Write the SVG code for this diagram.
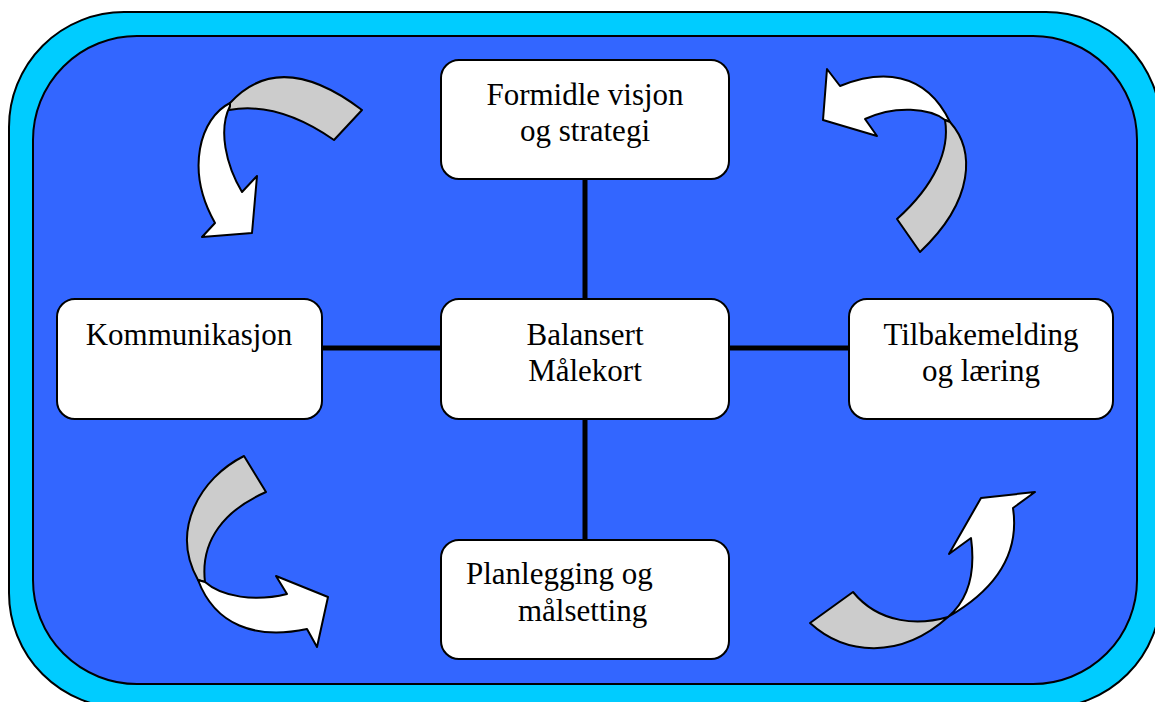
<svg xmlns="http://www.w3.org/2000/svg" width="1155" height="702" viewBox="0 0 1155 702">
  <style>
    .frame-outer { fill: #00CCFF; stroke: #000; stroke-width: 2; }
    .frame-inner { fill: #3366FF; stroke: #000; stroke-width: 2; }
    .box { fill: #FFFFFF; stroke: #000; stroke-width: 2; }
    .label { font-family: "Liberation Serif", "Times New Roman", serif; font-size: 31px; fill: #000; }
    .link { stroke: #000; stroke-width: 5; fill: none; }
    .band { fill: #CCCCCC; stroke: #000; stroke-width: 2; stroke-linejoin: round; }
    .head { fill: #FFFFFF; stroke: #000; stroke-width: 2; stroke-linejoin: round; }
  </style>

  <rect width="1155" height="702" fill="#FFFFFF"/>

  <!-- rounded frame -->
  <rect class="frame-outer" x="9" y="12" width="1152" height="696" rx="115" ry="115"/>
  <rect class="frame-inner" x="33" y="36" width="1104" height="648" rx="104" ry="104"/>

  <!-- connectors between the central card and the four outer cards -->
  <g id="connectors">
    <line class="link" x1="585" y1="179" x2="585" y2="299"/>
    <line class="link" x1="585" y1="419" x2="585" y2="540"/>
    <line class="link" x1="322" y1="348" x2="441" y2="348"/>
    <line class="link" x1="729" y1="348" x2="849" y2="348"/>
  </g>

  <!-- curved twisted arrows in the four corners -->
  <g id="arrows">
    <g id="arrow-top-left">
      <path class="band" d="M 230,103 Q 280,48 362,110 L 334,140 Q 278,101 229,110 Z"/>
      <path class="head" d="M 230,103 C 200,118 185,170 215,223 L 202,237 L 252,233 L 257,176 L 242,192 C 226,165 218,130 230,106 Z"/>
    </g>
    <g id="arrow-top-right">
      <path class="head" d="M 950,122 C 925,70 880,70 840,86 L 827,69 L 823,120 L 877,136 L 865,119 C 895,105 930,108 945,120 Z"/>
      <path class="band" d="M 950,122 C 975,150 975,200 920,252 L 897,219 C 935,185 950,150 945,120 Z"/>
    </g>
    <g id="arrow-bottom-left">
      <path class="band" d="M 244,456 C 200,478 170,530 198,580 L 205,582 C 200,540 225,510 266,492 Z"/>
      <path class="head" d="M 198,580 C 215,625 255,640 307,629 L 317,647 L 328,597 L 276,576 L 287,594 C 255,602 222,597 205,582 Z"/>
    </g>
    <g id="arrow-bottom-right">
      <path class="band" d="M 810,623 C 845,655 900,660 948,617 C 920,625 880,625 853,592 Z"/>
      <path class="head" d="M 948,617 C 995,590 1020,555 1013,508 L 1035,492 L 981,498 L 949,554 L 971,538 C 976,575 968,600 948,617 Z"/>
    </g>
  </g>

  <!-- nodes -->
  <g id="node-formidle">
    <rect class="box" x="441" y="60" width="288" height="119" rx="18" ry="18"/>
    <text class="label" x="585" y="105" text-anchor="middle">Formidle visjon</text>
    <text class="label" x="585" y="141" text-anchor="middle">og strategi</text>
  </g>

  <g id="node-kommunikasjon">
    <rect class="box" x="57" y="299" width="265" height="120" rx="18" ry="18"/>
    <text class="label" x="189" y="345" text-anchor="middle">Kommunikasjon</text>
  </g>

  <g id="node-balansert">
    <rect class="box" x="441" y="299" width="288" height="120" rx="18" ry="18"/>
    <text class="label" x="585" y="345" text-anchor="middle">Balansert</text>
    <text class="label" x="585" y="381" text-anchor="middle">Målekort</text>
  </g>

  <g id="node-tilbakemelding">
    <rect class="box" x="849" y="299" width="264" height="120" rx="18" ry="18"/>
    <text class="label" x="981" y="345" text-anchor="middle">Tilbakemelding</text>
    <text class="label" x="981" y="381" text-anchor="middle">og læring</text>
  </g>

  <g id="node-planlegging">
    <rect class="box" x="441" y="540" width="288" height="119" rx="18" ry="18"/>
    <text class="label" x="466" y="584">Planlegging og</text>
    <text class="label" x="518" y="621">målsetting</text>
  </g>
</svg>
